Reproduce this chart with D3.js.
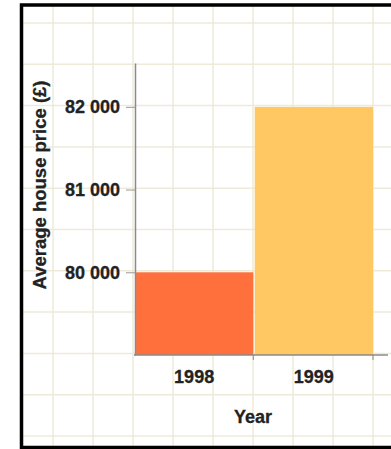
<!DOCTYPE html>
<html>
<head>
<meta charset="utf-8">
<script src="https://cdn.jsdelivr.net/npm/d3@7"></script>
<style>
  html, body { margin: 0; padding: 0; background: #fff; }
  svg { display: block; }
  text { font-family: "Liberation Sans", Arial, sans-serif; font-weight: bold; fill: #222; stroke: #222; stroke-width: 0.3; }
</style>
</head>
<body>
<script>
const years = ['1998', '1999'];
const prices = [80000, 82000];
const yTicks = [80000, 81000, 82000];
const barColors = ['#ff703d', '#ffc862'];
const xTitle = 'Year';
const yTitle = 'Average house price (£)';

const width = 391;
const height = 449;

const svg = d3
  .select('body')
  .append('svg')
  .attr('width', width)
  .attr('height', height);

// squared paper background
const gridX = d3.scaleLinear().domain([0, 1]).range([53, 93]);
const gridY = d3.scaleLinear().domain([0, 1]).range([23, 64.3]);
const grid = svg.append('g').attr('stroke', '#eeeada').attr('stroke-width', 1.5);
grid
  .selectAll('line.v')
  .data(d3.range(0, 9))
  .join('line')
  .attr('class', 'v')
  .attr('x1', (d) => gridX(d))
  .attr('x2', (d) => gridX(d))
  .attr('y1', 6)
  .attr('y2', 446);
grid
  .selectAll('line.h')
  .data(d3.range(0, 11))
  .join('line')
  .attr('class', 'h')
  .attr('x1', 23)
  .attr('x2', width)
  .attr('y1', (d) => gridY(d))
  .attr('y2', (d) => gridY(d));

// scales
const x = d3.scaleBand().domain(years).range([135, 373]).paddingInner(0.012);
const y = d3.scaleLinear().domain([79000, 82530]).range([355, 63]);

const fmt = d3.formatLocale({ decimal: '.', thousands: ' ', grouping: [3], currency: ['£', ''] }).format(',d');

// bars
svg
  .selectAll('rect.bar')
  .data(years)
  .join('rect')
  .attr('class', 'bar')
  .attr('x', (d) => x(d))
  .attr('y', (d, i) => y(prices[i]))
  .attr('width', x.bandwidth())
  .attr('height', (d, i) => y.range()[0] - y(prices[i]))
  .attr('fill', (d, i) => barColors[i]);

// y axis
const yAxis = svg
  .append('g')
  .attr('transform', 'translate(135,0)')
  .call(d3.axisLeft(y).tickValues(yTicks).tickFormat(fmt).tickSizeInner(9).tickSizeOuter(0).tickPadding(6));
yAxis.select('.domain').attr('stroke', '#8a8a8a').attr('stroke-width', 1.5);
yAxis.selectAll('.tick line').attr('stroke', '#9a9a9a');
yAxis.selectAll('.tick text').attr('font-size', 18).attr('fill', null).attr('font-family', null);

// x axis
const xAxis = svg.append('g').attr('transform', `translate(0,${y.range()[0]})`);
xAxis
  .append('line')
  .attr('x1', 134)
  .attr('x2', 388)
  .attr('stroke', '#8a8a8a')
  .attr('stroke-width', 1.5);
xAxis
  .selectAll('line.tick')
  .data(years)
  .join('line')
  .attr('class', 'tick')
  .attr('x1', (d) => x(d) + x.bandwidth())
  .attr('x2', (d) => x(d) + x.bandwidth())
  .attr('y1', 0)
  .attr('y2', 5)
  .attr('stroke', '#8a8a8a');
xAxis
  .selectAll('text')
  .data(years)
  .join('text')
  .attr('x', (d) => x(d) + x.bandwidth() / 2)
  .attr('y', 28)
  .attr('text-anchor', 'middle')
  .attr('font-size', 18)
  .text((d) => d);

// titles
svg
  .append('text')
  .attr('x', 253)
  .attr('y', 423)
  .attr('text-anchor', 'middle')
  .attr('font-size', 18)
  .text(xTitle);

svg
  .append('text')
  .attr('transform', 'translate(46,185) rotate(-90)')
  .attr('text-anchor', 'middle')
  .attr('font-size', 18.5)
  .text(yTitle);

// frame
svg
  .append('path')
  .attr('d', `M${width + 5},5 H21.5 V447.5 H${width + 5}`)
  .attr('fill', 'none')
  .attr('stroke', '#000')
  .attr('stroke-width', 3.5);
</script>
</body>
</html>
